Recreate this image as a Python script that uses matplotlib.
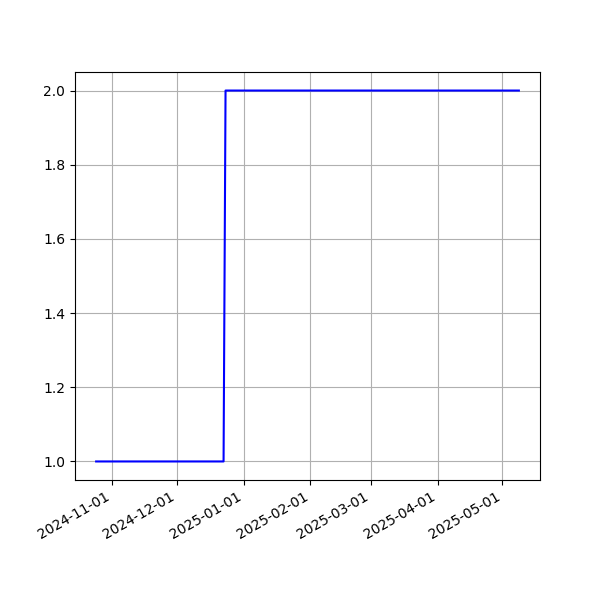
import matplotlib
matplotlib.use("Agg")
import matplotlib.pyplot as plt
import matplotlib.dates as mdates
import pandas as pd

# Datas e valores da série em degrau
dates = pd.to_datetime(["2024-10-24 16:00", "2024-12-22 18:00", "2024-12-23 16:00", "2025-05-08 16:00"])
values = [1, 1, 2, 2]

fig, ax = plt.subplots(figsize=(6, 6), dpi=100)
ax.plot(dates, values, color="blue")
ax.xaxis.set_major_locator(mdates.MonthLocator())
ax.xaxis.set_major_formatter(mdates.DateFormatter("%Y-%m-%d"))
ax.grid(True)
fig.autofmt_xdate()

plt.savefig("out.png")
